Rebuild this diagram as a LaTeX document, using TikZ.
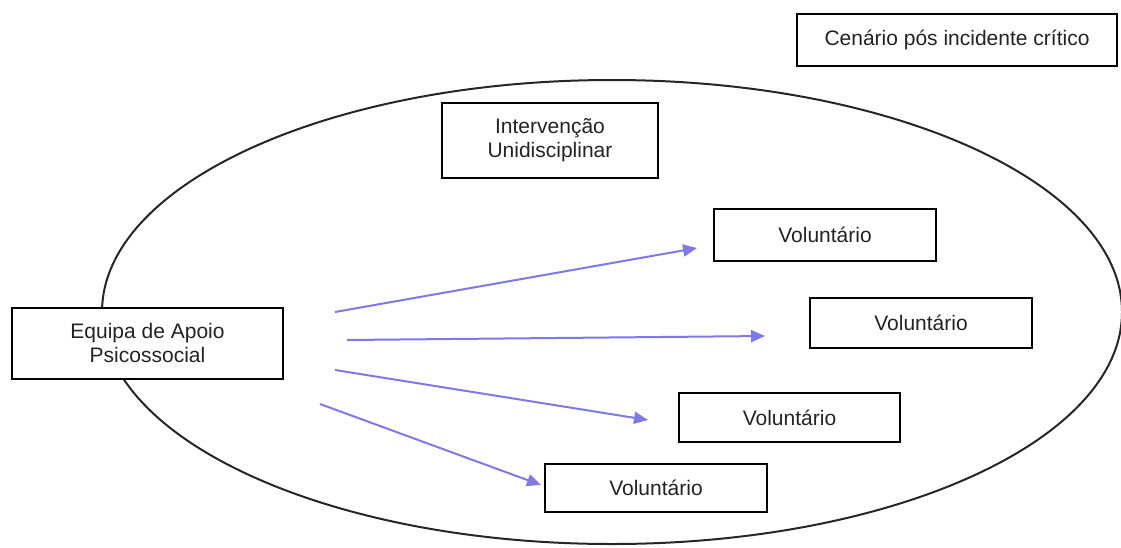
\documentclass[tikz,border=0pt]{standalone}
\usepackage{fontspec}
\setmainfont{Liberation Sans}
\usetikzlibrary{arrows.meta}
\definecolor{inktext}{RGB}{35,35,35}
\definecolor{linkblue}{RGB}{128,120,232}
\tikzset{
  labelbox/.style={draw=black, line width=2pt, fill=white, inner sep=0pt,
    align=center, text=inktext, font=\fontsize{21}{24}\selectfont},
  link/.style={draw=linkblue, line width=2pt,
    -{Triangle[length=14pt,width=12pt]}},
}
\begin{document}
\begin{tikzpicture}[x=1pt,y=-1pt]
\useasboundingbox (0,0) rectangle (1121,547);
% scenario boundary
\draw[line width=2pt, draw=black!85] (612,312) ellipse [x radius=510pt, y radius=232pt];

% boxes
\node[labelbox, minimum width=320pt, minimum height=52pt] (scene) at (957,40) {Cenário pós incidente crítico};
\node[labelbox, minimum width=216pt, minimum height=75pt] (interv) at (550,140.5) {Intervenção\\Unidisciplinar};
\node[labelbox, minimum width=271pt, minimum height=71pt] (team) at (147.5,343) {Equipa de Apoio\\Psicossocial};
\node[labelbox, minimum width=222pt, minimum height=52pt] (vol1) at (825,235) {Voluntário};
\node[labelbox, minimum width=222pt, minimum height=50pt] (vol2) at (921,323) {Voluntário};
\node[labelbox, minimum width=221pt, minimum height=49pt] (vol3) at (789.5,417.5) {Voluntário};
\node[labelbox, minimum width=222pt, minimum height=48pt] (vol4) at (656,487.5) {Voluntário};

% arrow end points
\coordinate (s1) at (335,312);
\coordinate (e1) at (697,248);
\coordinate (s2) at (347,340);
\coordinate (e2) at (765,336);
\coordinate (s3) at (335,370);
\coordinate (e3) at (648,420);
\coordinate (s4) at (320,404);
\coordinate (e4) at (541,485);

\draw[link] (s1) -- (e1);
\draw[link] (s2) -- (e2);
\draw[link] (s3) -- (e3);
\draw[link] (s4) -- (e4);
\end{tikzpicture}
\end{document}
